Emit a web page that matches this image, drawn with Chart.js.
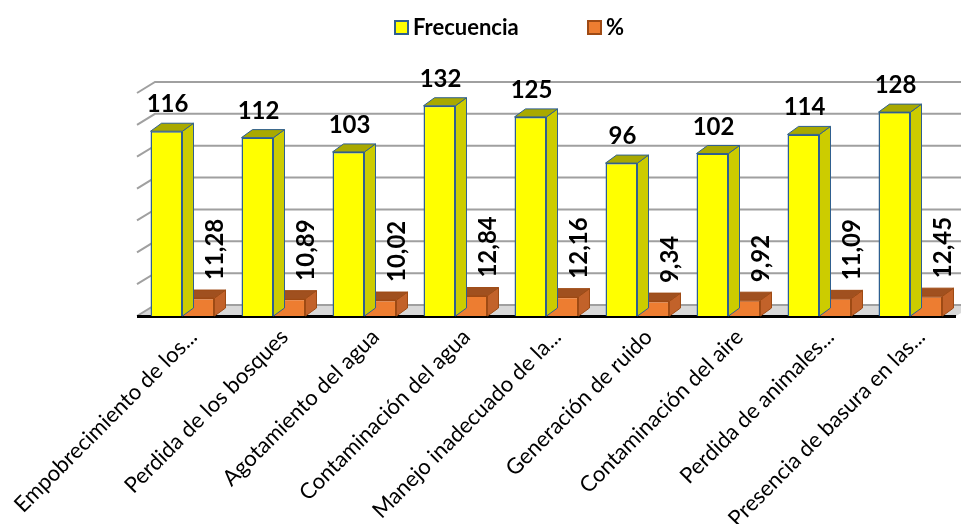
<!DOCTYPE html>
<html>
<head>
<meta charset="utf-8">
<script src="https://cdn.jsdelivr.net/npm/chart.js@4/dist/chart.umd.min.js"></script>
<style>
  body { margin: 0; background: #fff; }
  canvas { display: block; }
</style>
</head>
<body>
<canvas id="chart" width="961" height="524"></canvas>
<script>
const categories = [
  "Empobrecimiento de los...",
  "Perdida de los bosques",
  "Agotamiento del agua",
  "Contaminación del agua",
  "Manejo inadecuado de la...",
  "Generación de ruido",
  "Contaminación del aire",
  "Perdida de animales...",
  "Presencia de basura en las..."
];
const frecuencia = [116, 112, 103, 132, 125, 96, 102, 114, 128];
const porcentaje = [11.28, 10.89, 10.02, 12.84, 12.16, 9.34, 9.92, 11.09, 12.45];
const yTicks = { min: 0, max: 140, step: 20 };

// depth offsets for the fake 3d look
const WALL = { dx: 18, dy: -11 };
const BOX = { dx: 11, dy: -8 };

const faces = [
  { front: "#FFFF00", side: "#CCCC00", top: "#A9A900", edge: "#2F5F8F" },
  { front: "#ED7D31", side: "#C2622A", top: "#A0501F", edge: "#9E4A14" }
];

function poly(ctx, pts, fill, stroke) {
  ctx.beginPath();
  ctx.moveTo(pts[0][0], pts[0][1]);
  for (let i = 1; i < pts.length; i++) ctx.lineTo(pts[i][0], pts[i][1]);
  ctx.closePath();
  ctx.fillStyle = fill;
  ctx.fill();
  if (stroke) {
    ctx.strokeStyle = stroke;
    ctx.lineWidth = 1;
    ctx.stroke();
  }
}

const backdrop = {
  id: "backdrop",
  beforeDatasetsDraw(chart) {
    const ctx = chart.ctx;
    const { left, right, bottom } = chart.chartArea;
    const y = chart.scales.y;
    ctx.save();
    // floor
    poly(ctx, [[left, bottom], [left + WALL.dx, bottom + WALL.dy],
      [right + WALL.dx, bottom + WALL.dy], [right, bottom]], "#D9D9D9");
    // gridlines on side and back wall
    ctx.strokeStyle = "#A0A0A0";
    ctx.lineWidth = 2;
    y.ticks.forEach(t => {
      const py = y.getPixelForValue(t.value);
      ctx.beginPath();
      ctx.moveTo(left, py);
      ctx.lineTo(left + WALL.dx, py + WALL.dy);
      ctx.lineTo(right + WALL.dx, py + WALL.dy);
      ctx.stroke();
    });
    // front axis line
    ctx.strokeStyle = "#000";
    ctx.lineWidth = 3;
    ctx.beginPath();
    ctx.moveTo(left, bottom + 0.5);
    ctx.lineTo(right, bottom + 0.5);
    ctx.stroke();
    ctx.restore();
  },
  afterDatasetDraw(chart, args) {
    const ctx = chart.ctx;
    const c = faces[args.index];
    ctx.save();
    args.meta.data.forEach(bar => {
      const l = bar.x - bar.width / 2;
      const r = bar.x + bar.width / 2;
      const t = bar.y;
      const b = bar.base;
      poly(ctx, [[r, t], [r + BOX.dx, t + BOX.dy], [r + BOX.dx, b + BOX.dy], [r, b]], c.side, c.edge);
      poly(ctx, [[l, t], [l + BOX.dx, t + BOX.dy], [r + BOX.dx, t + BOX.dy], [r, t]], c.top, c.edge);
    });
    ctx.restore();
  },
  afterDatasetsDraw(chart) {
    const ctx = chart.ctx;
    ctx.save();
    ctx.fillStyle = "#000";
    ctx.font = "bold 24px Lato";
    // value labels above the frecuencia bars
    ctx.textAlign = "center";
    ctx.textBaseline = "alphabetic";
    chart.getDatasetMeta(0).data.forEach((bar, i) => {
      ctx.fillText(String(frecuencia[i]), bar.x + 1, bar.y - 19);
    });
    // rotated labels above the % bars
    chart.getDatasetMeta(1).data.forEach((bar, i) => {
      ctx.save();
      ctx.translate(bar.x + 17, bar.y - 18);
      ctx.rotate(-Math.PI / 2);
      ctx.textAlign = "left";
      ctx.textBaseline = "middle";
      ctx.fillText(porcentaje[i].toFixed(2).replace(".", ","), 0, 0);
      ctx.restore();
    });
    ctx.restore();
  },
  afterDraw(chart) {
    // legend
    const ctx = chart.ctx;
    const items = [
      { text: "Frecuencia", x: 395, c: faces[0] },
      { text: "%", x: 588, c: faces[1] }
    ];
    ctx.save();
    ctx.font = "bold 22px Lato";
    ctx.textBaseline = "middle";
    ctx.textAlign = "left";
    items.forEach(it => {
      ctx.fillStyle = it.c.front;
      ctx.fillRect(it.x, 21, 13, 13);
      ctx.strokeStyle = it.c.edge;
      ctx.lineWidth = 2;
      ctx.strokeRect(it.x, 21, 13, 13);
      ctx.fillStyle = "#000";
      ctx.fillText(it.text, it.x + 18, 28);
    });
    ctx.restore();
  }
};

new Chart(document.getElementById("chart"), {
  type: "bar",
  data: {
    labels: categories,
    datasets: [
      {
        label: "Frecuencia",
        data: frecuencia,
        backgroundColor: faces[0].front,
        borderColor: faces[0].edge,
        borderWidth: 1.5
      },
      {
        label: "%",
        data: porcentaje,
        backgroundColor: faces[1].front,
        borderColor: faces[1].edge,
        borderWidth: 1.5
      }
    ]
  },
  options: {
    responsive: false,
    animation: false,
    layout: { padding: { left: 137, right: 5, top: 93, bottom: 0 } },
    datasets: { bar: { categoryPercentage: 0.703, barPercentage: 1 } },
    plugins: {
      legend: { display: false },
      tooltip: { enabled: false }
    },
    scales: {
      x: {
        grid: { display: false, drawTicks: false },
        border: { display: false },
        ticks: {
          autoSkip: false,
          maxRotation: 45,
          minRotation: 45,
          padding: 8,
          labelOffset: 11,
          color: "#000",
          font: { family: "Lato", size: 22 }
        },
        afterFit(scale) {
          scale.height = 208;
          scale.paddingLeft = 0;
          scale.paddingRight = 0;
        }
      },
      y: {
        display: false,
        min: yTicks.min,
        max: yTicks.max,
        ticks: { stepSize: yTicks.step }
      }
    }
  },
  plugins: [backdrop]
});
</script>
</body>
</html>
